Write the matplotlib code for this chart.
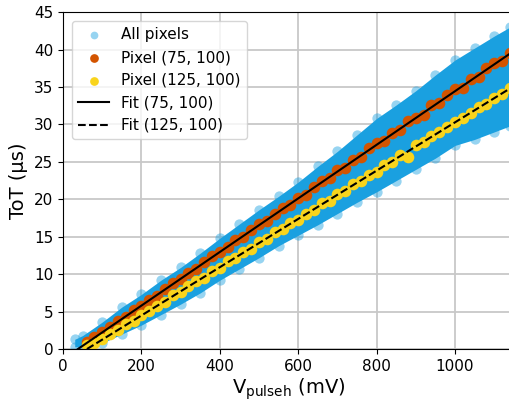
import matplotlib
matplotlib.use("Agg")
import matplotlib.pyplot as plt
import numpy as np

# pulse height steps (mV) for the two highlighted pixels
v_pix = [60, 80, 100, 120, 140, 160, 180, 200, 220, 240, 260, 280, 300, 320,
         340, 360, 380, 400, 420, 440, 460, 480, 500, 520, 540, 560, 580, 600,
         620, 640, 660, 680, 700, 720, 740, 760, 780, 800, 820, 840, 860, 880,
         900, 920, 940, 960, 980, 1000, 1020, 1040, 1060, 1080, 1100, 1120, 1140]

tot_75 = [0.9, 1.6, 2.3, 2.9, 3.8, 4.3, 5.2, 5.7, 6.6, 7.1, 8.0, 8.8, 9.3, 10.2,
          10.7, 11.6, 12.4, 12.9, 13.6, 14.5, 15.0, 15.9, 16.7, 17.1, 18.0, 18.9,
          19.3, 20.2, 20.6, 21.7, 22.4, 22.8, 23.9, 24.2, 25.3, 25.6, 26.8, 27.5,
          27.8, 28.9, 29.2, 30.4, 30.9, 31.3, 32.6, 32.8, 33.9, 34.7, 34.9, 36.1,
          36.4, 37.5, 38.2, 38.5, 39.6]

tot_125 = [0.5, 0.8, 1.3, 2.0, 2.5, 3.3, 3.8, 4.6, 5.1, 5.8, 6.3, 7.2, 7.6, 8.4,
           9.1, 9.5, 10.4, 10.8, 11.7, 12.1, 13.0, 13.4, 14.3, 14.7, 15.6, 16.0,
           16.9, 17.3, 18.1, 18.6, 19.5, 19.8, 20.7, 21.1, 22.0, 22.4, 23.3, 23.7,
           24.6, 25.0, 25.9, 25.6, 27.2, 27.6, 28.4, 29.0, 29.6, 30.3, 30.9, 31.5,
           32.3, 32.7, 33.5, 34.0, 34.8]

# spread of all pixels: lower / upper edge of the cloud
v_all = [30, 50, 100, 150, 200, 250, 300, 350, 400, 450, 500, 550, 600, 650,
         700, 750, 800, 850, 900, 950, 1000, 1050, 1100, 1140]
all_low = [0.3, 0.3, 0.8, 2.0, 3.2, 4.6, 6.0, 7.5, 9.2, 10.7, 12.2, 13.8, 15.2,
           16.6, 18.1, 19.6, 21.0, 22.5, 24.0, 25.5, 27.2, 28.0, 29.0, 29.8]
all_high = [1.3, 1.8, 3.6, 5.6, 7.3, 9.2, 10.9, 12.8, 14.8, 16.7, 18.6, 20.4,
            22.3, 24.4, 26.4, 28.6, 30.8, 32.6, 34.5, 36.6, 38.6, 40.2, 41.8, 43.0]

# linear fits (slope, intercept)
fit_75 = (0.0358, -1.36)
fit_125 = (0.03225, -1.97)

blue = '#1aa0e0'
orange = '#d35400'
yellow = '#f9d41c'

fig = plt.figure(figsize=(5.1, 4.04), dpi=100)
ax = fig.add_axes([0.1235, 0.136, 0.884, 0.834])
ax.set_axisbelow(True)
ax.grid(True, color='#c8c8c8', linewidth=1.3)

ax.fill_between(v_all, all_low, all_high, color=blue, linewidth=0, zorder=1)
ax.scatter(v_all + v_all, all_low + all_high, s=55, color=blue, alpha=0.45,
           linewidths=0, zorder=1, label='All pixels')

ax.scatter(v_pix, tot_75, s=70, color=orange, linewidths=0, zorder=2,
           label='Pixel (75, 100)')
ax.scatter(v_pix, tot_125, s=70, color=yellow, linewidths=0, zorder=2,
           label='Pixel (125, 100)')

for fit, ls, lab in [(fit_75, '-', 'Fit (75, 100)'), (fit_125, '--', 'Fit (125, 100)')]:
    x0 = -fit[1] / fit[0]
    xs = np.array([x0, 1160])
    ax.plot(xs, fit[0] * xs + fit[1], color='black', linestyle=ls, linewidth=1.5,
            zorder=3, label=lab)

ax.set_xlim(0, 1150)
ax.set_ylim(0, 45)
ax.set_xticks([0, 200, 400, 600, 800, 1000])
ax.set_yticks(np.arange(0, 46, 5))
ax.tick_params(labelsize=11)
ax.set_xlabel(r'V$_{\mathrm{pulseh}}$ (mV)', fontsize=14, labelpad=2)
ax.set_ylabel('ToT (µs)', fontsize=14)

ax.legend(loc='upper left', fontsize=11, borderaxespad=0.6, markerscale=0.75)

fig.savefig('out.png', dpi=100)
